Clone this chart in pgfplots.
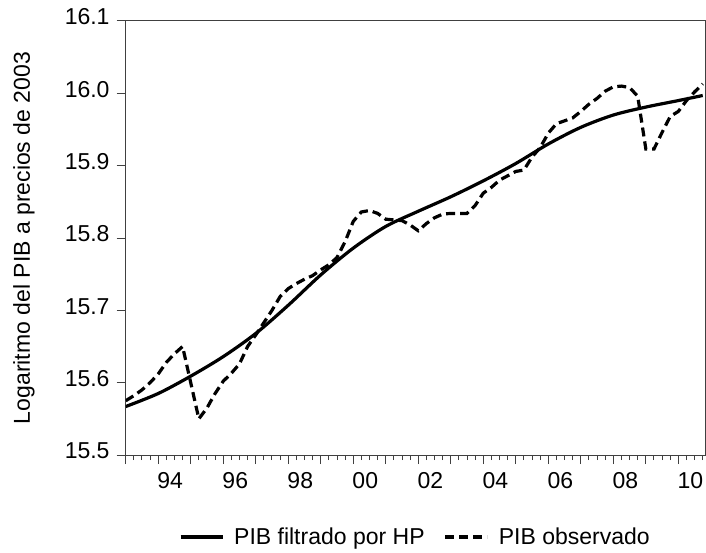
\documentclass[border=0pt]{standalone}
\usepackage{fontspec}
\setmainfont{Liberation Sans}
\usepackage{pgfplots}
\usepackage{pgfplotstable}
\pgfplotsset{compat=1.18}
\pgfplotstableread{
x y
1993.00 15.567
1994.00 15.585
1995.00 15.609
1996.00 15.636
1997.00 15.668
1998.00 15.707
1999.00 15.749
2000.00 15.786
2001.00 15.816
2002.00 15.837
2003.00 15.857
2004.00 15.879
2005.00 15.903
2006.00 15.930
2007.00 15.953
2008.00 15.970
2009.00 15.981
2010.00 15.990
2010.75 15.997
}\hptable
\pgfplotstableread{
x y
1993.00 15.575
1993.25 15.582
1993.50 15.590
1993.75 15.600
1994.00 15.612
1994.25 15.628
1994.50 15.640
1994.75 15.650
1995.00 15.600
1995.25 15.550
1995.50 15.565
1995.75 15.585
1996.00 15.602
1996.25 15.613
1996.50 15.626
1996.75 15.650
1997.00 15.666
1997.25 15.683
1997.50 15.700
1997.75 15.719
1998.00 15.730
1998.25 15.737
1998.50 15.743
1998.75 15.748
1999.00 15.756
1999.25 15.763
1999.50 15.773
1999.75 15.795
2000.00 15.823
2000.25 15.836
2000.50 15.838
2000.75 15.834
2001.00 15.826
2001.25 15.825
2001.50 15.824
2001.75 15.818
2002.00 15.810
2002.25 15.820
2002.50 15.828
2002.75 15.833
2003.00 15.834
2003.25 15.834
2003.50 15.834
2003.75 15.845
2004.00 15.862
2004.25 15.870
2004.50 15.880
2004.75 15.886
2005.00 15.892
2005.25 15.894
2005.50 15.912
2005.75 15.925
2006.00 15.945
2006.25 15.958
2006.50 15.962
2006.75 15.966
2007.00 15.975
2007.25 15.985
2007.50 15.993
2007.75 16.003
2008.00 16.009
2008.25 16.010
2008.50 16.008
2008.75 15.996
2009.00 15.923
2009.25 15.923
2009.50 15.946
2009.75 15.968
2010.00 15.975
2010.25 15.990
2010.50 16.002
2010.75 16.013
}\obstable
\begin{document}
\begin{tikzpicture}[x=1pt,y=1pt]
\path[use as bounding box] (0,0) rectangle (706,552);
\begin{axis}[
  at={(125.7pt,97pt)}, anchor=south west,
  scale only axis, width=579.3pt, height=434pt,
  xmin=1993, xmax=2010.82, ymin=15.5, ymax=16.1,
  axis line style={line width=1pt, black!75},
  every tick/.style={line width=1pt, black!75},
  tick align=outside,
  xtick pos=bottom, ytick pos=left,
  xtick={1993,1994,1995,1996,1997,1998,1999,2000,2001,2002,2003,2004,2005,2006,2007,2008,2009,2010},
  xticklabels={},
  minor xtick={1993,1993.25,...,2010.75},
  major tick length=9pt, minor tick length=5pt,
  extra x ticks={1994.37,1996.37,1998.37,2000.37,2002.37,2004.37,2006.37,2008.37,2010.37},
  extra x tick labels={94,96,98,00,02,04,06,08,10},
  extra x tick style={major tick length=0pt, xticklabel style={inner sep=0pt, anchor=north, yshift=-17pt}},
  ytick={15.5,15.6,15.7,15.8,15.9,16.0,16.1},
  /pgf/number format/fixed, /pgf/number format/fixed zerofill, /pgf/number format/precision=1,
  /pgf/number format/assume math mode=true,
  yticklabel style={inner sep=0pt, anchor=east, xshift=-7pt, yshift=4pt},
  tick label style={font=\fontsize{23}{27}\selectfont},
  ylabel={Logaritmo del PIB a precios de 2003},
  ylabel style={at={(axis description cs:-0.1756,0.5)}, anchor=center, font=\fontsize{23}{27}\selectfont},
  legend columns=2,
  legend style={at={(axis description cs:0.5,-0.189)}, anchor=center, draw=none, fill=none,
    font=\fontsize{23}{27}\selectfont,
    /tikz/every odd column/.append style={column sep=8pt},
    /tikz/every even column/.append style={column sep=17pt}},
  legend image code/.code={\draw[#1] (0pt,0pt) -- (42pt,0pt);},
]
\addplot[black, line width=3.2pt, smooth, tension=0.5] table[x=x,y=y] {\hptable};
\addlegendentry{PIB filtrado por HP}
\addplot[black, line width=3.2pt, dash pattern=on 9pt off 5pt] table[x=x,y=y] {\obstable};
\addlegendentry{PIB observado}
\end{axis}
\end{tikzpicture}
\end{document}
